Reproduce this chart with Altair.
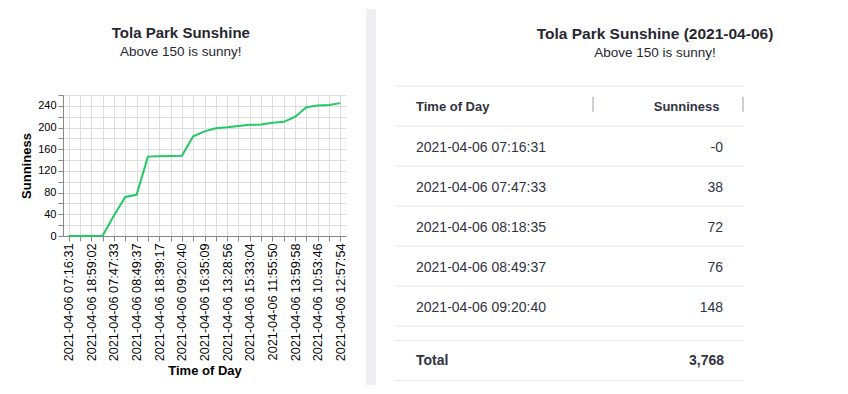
import altair as alt
import pandas as pd

# ---------------- data ----------------
times = [
    "2021-04-06 07:16:31", "2021-04-06 07:47:33", "2021-04-06 08:18:35",
    "2021-04-06 08:49:37", "2021-04-06 09:20:40", "2021-04-06 09:51:42",
    "2021-04-06 10:22:44", "2021-04-06 10:53:46", "2021-04-06 11:24:48",
    "2021-04-06 11:55:50", "2021-04-06 12:26:52", "2021-04-06 12:57:54",
    "2021-04-06 13:28:56", "2021-04-06 13:59:58", "2021-04-06 14:31:00",
    "2021-04-06 15:33:04", "2021-04-06 16:04:06", "2021-04-06 16:35:09",
    "2021-04-06 17:06:11", "2021-04-06 17:37:13", "2021-04-06 18:08:15",
    "2021-04-06 18:39:17", "2021-04-06 18:59:02", "2021-04-06 19:10:19",
    "2021-04-06 19:41:21",
]
sunniness = [
    -0.2, 38, 72,
    76, 148, 147.5,
    198.7, 240.5, 210.5,
    209, 237.5, 245,
    200.5, 219.5, 241.5,
    205, 205.5, 193,
    203, 184, 146.4,
    147, 0.1, 0.0,
    0.3,
]

chart_title = "Tola Park Sunshine"
table_title = "Tola Park Sunshine (2021-04-06)"
subtitle = "Above 150 is sunny!"
x_title = "Time of Day"
y_title = "Sunniness"
total_label = "Total"
n_shown = 5

FONT = "Liberation Sans"
GREEN = "#22c863"
TEXT = "#31333f"
TITLE = "#262730"

df = pd.DataFrame({x_title: times, y_title: sunniness})

# ---------------- line chart ----------------
line = (
    alt.Chart(
        df,
        title=alt.Title(
            chart_title, subtitle=subtitle, fontSize=15, subtitleFontSize=13.5,
            color=TITLE, subtitleColor=TITLE, offset=36, subtitlePadding=4,
            anchor="middle", frame="bounds", dx=-3,
        ),
    )
    .mark_line(color=GREEN, strokeWidth=2)
    .encode(
        x=alt.X(
            f"{x_title}:N", sort="y", title=x_title,
            axis=alt.Axis(labelAngle=270, labelFontSize=12.7, labelOverlap="parity",
                          grid=True, titleFontSize=13),
        ),
        y=alt.Y(
            f"{y_title}:Q", title=y_title, scale=alt.Scale(domain=[0, 260]),
            axis=alt.Axis(tickCount=13, labelFontSize=11, titleFontSize=13),
        ),
    )
    .properties(width=283, height=141)
)

# ---------------- column separator band ----------------
band = (
    alt.Chart(pd.DataFrame({"k": [0]}))
    .mark_rect(color="#efeff1")
    .encode(x=alt.value(0), x2=alt.value(10), y=alt.value(-86), y2=alt.value(290))
    .properties(width=10, height=141)
)

# ---------------- table ----------------
GAP = 0.36
yscale = alt.Scale(domain=[0.225, 7.35], reverse=True)

header_df = pd.DataFrame({"pos": [0.5], "left": [x_title], "right": [y_title]})
body_df = pd.DataFrame({
    "pos": [i + 1.5 for i in range(n_shown)],
    "left": times[:n_shown],
    "right": [f"{v:,.0f}" for v in sunniness[:n_shown]],
})
footer_df = pd.DataFrame({
    "pos": [n_shown + 1 + GAP + 0.5],
    "left": [total_label],
    "right": [f"{sum(sunniness):,.0f}"],
})
lines_df = pd.DataFrame({"pos": [float(i) for i in range(n_shown + 2)] + [n_shown + 1 + GAP, n_shown + 2 + GAP]})
sep_df = pd.DataFrame({"y1": [0.27], "y2": [0.64]})

def ytxt():
    return alt.Y("pos:Q", scale=yscale, axis=None)

rules = alt.Chart(lines_df).mark_rule(color="#e6e6e6", strokeWidth=1).encode(
    x=alt.value(0), x2=alt.value(349), y=ytxt()
)
sep1 = alt.Chart(sep_df).mark_rule(color="#9aa0a8").encode(
    x=alt.value(198), y=alt.Y("y1:Q", scale=yscale, axis=None), y2="y2:Q"
)
sep2 = alt.Chart(sep_df).mark_rule(color="#9aa0a8").encode(
    x=alt.value(348), y=alt.Y("y1:Q", scale=yscale, axis=None), y2="y2:Q"
)

def txt(data, field, align, x, size, weight, dy):
    return alt.Chart(data).mark_text(
        align=align, baseline="middle", font=FONT, fontSize=size,
        fontWeight=weight, color=TEXT, dy=dy,
    ).encode(x=alt.value(x), y=ytxt(), text=f"{field}:N")

table = alt.layer(
    rules, sep1, sep2,
    txt(header_df, "left", "left", 21, 13, "bold", 1),
    txt(header_df, "right", "right", 324.5, 13, "bold", 1),
    txt(body_df, "left", "left", 21, 14, "normal", 2),
    txt(body_df, "right", "right", 328, 14, "normal", 2),
    txt(footer_df, "left", "left", 21, 14, "bold", 1),
    txt(footer_df, "right", "right", 329, 14, "bold", 1),
).properties(
    width=349, height=285,
    title=alt.Title(
        table_title, subtitle=subtitle, fontSize=15.5, subtitleFontSize=13.5,
        color=TITLE, subtitleColor=TITLE, offset=26, subtitlePadding=4,
        anchor="middle", frame="group", dx=85.5,
    ),
)

chart = (
    alt.hconcat(line, band, table, spacing=17)
    .properties(padding={"left": 12, "top": 0, "right": 5, "bottom": 0})
    .configure(font=FONT)
    .configure_view(stroke="transparent")
)

chart.save("out.html", embed_options={"renderer": "svg", "actions": False})
